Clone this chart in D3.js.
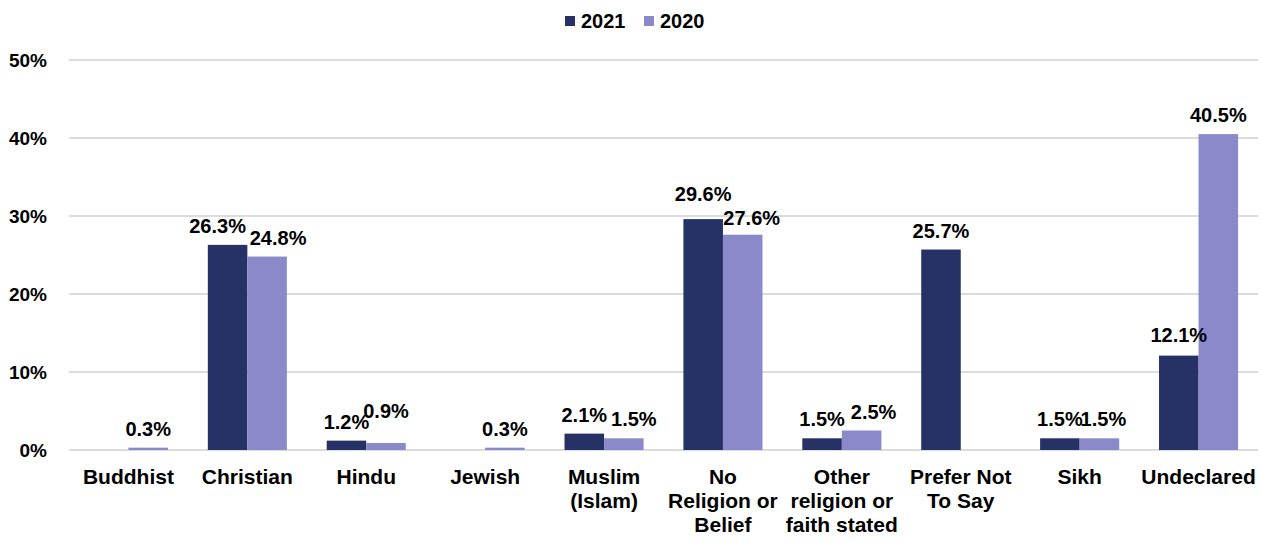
<!DOCTYPE html>
<html>
<head>
<meta charset="utf-8">
<script src="https://cdn.jsdelivr.net/npm/d3@7"></script>
<style>
  body { margin: 0; background: #fff; }
  text { font-family: "Liberation Sans", Arial, sans-serif; font-weight: bold; fill: #000; }
</style>
</head>
<body>
<div id="chart"></div>
<script>
// data
var categories = [
  ["Buddhist"], ["Christian"], ["Hindu"], ["Jewish"], ["Muslim", "(Islam)"],
  ["No", "Religion or", "Belief"], ["Other", "religion or", "faith stated"],
  ["Prefer Not", "To Say"], ["Sikh"], ["Undeclared"]
];
var series = ["2021", "2020"];
var values2021 = [null, 26.3, 1.2, null, 2.1, 29.6, 1.5, 25.7, 1.5, 12.1];
var values2020 = [0.3, 24.8, 0.9, 0.3, 1.5, 27.6, 2.5, null, 1.5, 40.5];
var yTicks = [0, 10, 20, 30, 40, 50];
var colors = ["#263166", "#8b89c9"];

var svgWidth = 1261;
var svgHeight = 543;
var margin = { top: 60, right: 3, bottom: 93, left: 69 };
var width = svgWidth - margin.left - margin.right;
var height = svgHeight - margin.top - margin.bottom;

// label nudges (Excel pushes crowded data labels apart)
var labelNudge = {
  "1-2021": [-10, 0], "1-2020": [11, 0],
  "2-2020": [0, -13],
  "4-2020": [10, 0],
  "5-2021": [0, -6], "5-2020": [9, 2],
  "6-2020": [12, 0],
  "8-2020": [4, 0],
  "9-2021": [0, -2]
};

var svg = d3.select("#chart")
  .append("svg")
  .attr("width", svgWidth)
  .attr("height", svgHeight);

var chartGroup = svg.append("g")
  .attr("transform", `translate(${margin.left}, ${margin.top})`);

var idx = d3.range(categories.length);

var x0 = d3.scaleBand()
  .domain(idx)
  .range([0, width])
  .paddingInner(0.335)
  .paddingOuter(0.1675);

var x1 = d3.scaleBand()
  .domain(series)
  .range([0, x0.bandwidth()]);

var y = d3.scaleLinear()
  .domain([0, 50])
  .range([height, 0]);

// gridlines
chartGroup.selectAll("line.grid")
  .data(yTicks)
  .enter()
  .append("line")
  .attr("class", "grid")
  .attr("x1", 0)
  .attr("x2", width)
  .attr("y1", d => y(d))
  .attr("y2", d => y(d))
  .attr("stroke", "#d0d0d0")
  .attr("stroke-width", 1.5);

// y axis labels
var leftAxis = d3.axisLeft(y)
  .tickValues(yTicks)
  .tickFormat(d => d + "%")
  .tickSize(0)
  .tickPadding(22);

var yAxis = chartGroup.append("g").call(leftAxis);
yAxis.select(".domain").remove();
yAxis.selectAll("text")
  .attr("font-size", 19)
  .attr("font-family", "Liberation Sans, Arial, sans-serif")
  .attr("font-weight", "bold")
  .attr("fill", "#000");

// bars
var data = [];
idx.forEach(function (i) {
  data.push({ i: i, s: "2021", v: values2021[i], c: colors[0] });
  data.push({ i: i, s: "2020", v: values2020[i], c: colors[1] });
});
var present = data.filter(d => d.v !== null);

chartGroup.selectAll("rect.bar")
  .data(present)
  .enter()
  .append("rect")
  .attr("class", "bar")
  .attr("x", d => x0(d.i) + x1(d.s))
  .attr("y", d => y(d.v))
  .attr("width", x1.bandwidth())
  .attr("height", d => height - y(d.v))
  .attr("fill", d => d.c);

// value labels
function nudge(d) {
  return labelNudge[d.i + "-" + d.s] || [0, 0];
}

chartGroup.selectAll("text.val")
  .data(present)
  .enter()
  .append("text")
  .attr("class", "val")
  .attr("x", d => x0(d.i) + x1(d.s) + x1.bandwidth() / 2 + nudge(d)[0])
  .attr("y", d => y(d.v) - 12 + nudge(d)[1])
  .attr("text-anchor", "middle")
  .attr("font-size", 20)
  .text(d => d.v.toFixed(1) + "%");

// category labels
var catGroup = chartGroup.append("g")
  .attr("transform", `translate(0, ${height})`);

catGroup.selectAll("text")
  .data(categories)
  .enter()
  .append("text")
  .attr("text-anchor", "middle")
  .attr("font-size", 21)
  .attr("x", (d, i) => x0(i) + x0.bandwidth() / 2)
  .attr("y", 34)
  .each(function (lines) {
    var t = d3.select(this);
    lines.forEach(function (line, k) {
      t.append("tspan")
        .attr("x", t.attr("x"))
        .attr("dy", k === 0 ? 0 : 24)
        .text(line);
    });
  });

// legend
var legend = svg.append("g")
  .attr("transform", "translate(565, 16)");

var legendItems = legend.selectAll("g")
  .data(series)
  .enter()
  .append("g")
  .attr("transform", (d, i) => `translate(${i * 79}, 0)`);

legendItems.append("rect")
  .attr("x", 0)
  .attr("y", 0)
  .attr("width", 10)
  .attr("height", 10)
  .attr("fill", (d, i) => colors[i]);

legendItems.append("text")
  .attr("x", 16)
  .attr("y", 12)
  .attr("font-size", 20)
  .text(d => d);
</script>
</body>
</html>
